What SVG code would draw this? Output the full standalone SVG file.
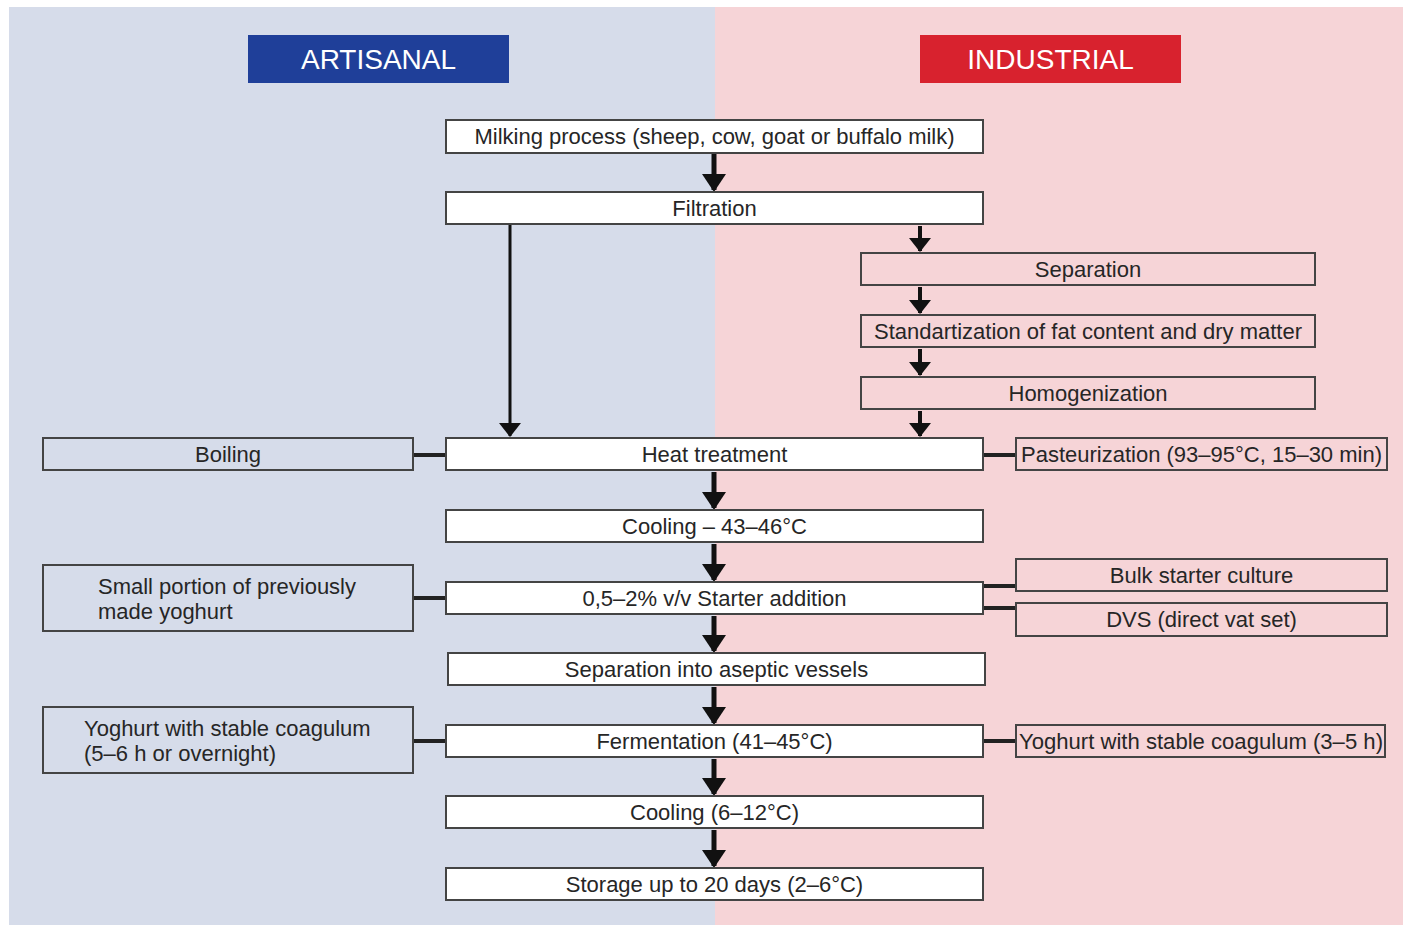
<svg xmlns="http://www.w3.org/2000/svg" width="1403" height="927" viewBox="0 0 1403 927">
<defs>
<marker id="ah" markerUnits="userSpaceOnUse" markerWidth="18" markerHeight="24" refX="16" refY="12" orient="auto" viewBox="0 0 18 24">
<path d="M0,0 L18,12 L0,24 Z" fill="#111"/>
</marker>
<marker id="ahs" markerUnits="userSpaceOnUse" markerWidth="14" markerHeight="22" refX="13" refY="11" orient="auto" viewBox="0 0 14 22">
<path d="M0,0 L14,11 L0,22 Z" fill="#111"/>
</marker>
</defs>
<style>
text{font-family:"Liberation Sans",Arial,sans-serif;font-size:22px;fill:#262626}
.main{fill:#fff;stroke:#444;stroke-width:2}
.sideB{fill:#d6dcea;stroke:#444;stroke-width:2}
.sideR{fill:#f6d4d7;stroke:#444;stroke-width:2}
.arr{stroke:#111;stroke-width:5;fill:none;marker-end:url(#ah)}
.arrs{stroke:#111;stroke-width:4;fill:none;marker-end:url(#ahs)}
.arrl{stroke:#111;stroke-width:3;fill:none;marker-end:url(#ahs)}
.con{stroke:#222;stroke-width:4;fill:none}
.hdr{fill:#fff;font-size:28px}
</style>
<rect x="0" y="0" width="1403" height="927" fill="#fff"/>
<rect x="9" y="7" width="706" height="918" fill="#d6dcea"/>
<rect x="715" y="7" width="688" height="918" fill="#f6d4d7"/>

<g id="hdr-artisanal"><rect x="248" y="35" width="261" height="48" fill="#1f3f99"/><text class="hdr" x="378.5" y="69" text-anchor="middle">ARTISANAL</text></g>
<g id="hdr-industrial"><rect x="920" y="35" width="261" height="48" fill="#d8222e"/><text class="hdr" x="1050.5" y="69" text-anchor="middle">INDUSTRIAL</text></g>

<g id="connectors">
<path class="arr" d="M714,153 V190"/>
<path class="arrl" d="M510,224 V436"/>
<path class="arrs" d="M920,226 V251"/>
<path class="arrs" d="M920,287 V313"/>
<path class="arrs" d="M920,349 V375"/>
<path class="arrs" d="M920,411 V436"/>
<path class="arr" d="M714,472 V508"/>
<path class="arr" d="M714,544 V580"/>
<path class="arr" d="M714,616 V651"/>
<path class="arr" d="M714,687 V723"/>
<path class="arr" d="M714,759 V794"/>
<path class="arr" d="M714,830 V866"/>
<path class="con" d="M413,455 H446"/>
<path class="con" d="M983,455 H1016"/>
<path class="con" d="M413,598 H446"/>
<path class="con" d="M983,586 H1016"/>
<path class="con" d="M983,608 H1016"/>
<path class="con" d="M413,741 H446"/>
<path class="con" d="M983,741 H1016"/>
</g>

<g id="milking"><rect class="main" x="446" y="120" width="537" height="33"/><text x="714.5" y="144" text-anchor="middle">Milking process (sheep, cow, goat or buffalo milk)</text></g>
<g id="filtration"><rect class="main" x="446" y="192" width="537" height="32"/><text x="714.5" y="216" text-anchor="middle">Filtration</text></g>
<g id="separation"><rect class="sideR" x="861" y="253" width="454" height="32"/><text x="1088" y="277" text-anchor="middle">Separation</text></g>
<g id="standardization"><rect class="sideR" x="861" y="315" width="454" height="32"/><text x="1088" y="339" text-anchor="middle">Standartization of fat content and dry matter</text></g>
<g id="homogenization"><rect class="sideR" x="861" y="377" width="454" height="32"/><text x="1088" y="401" text-anchor="middle">Homogenization</text></g>
<g id="heat"><rect class="main" x="446" y="438" width="537" height="32"/><text x="714.5" y="462" text-anchor="middle">Heat treatment</text></g>
<g id="boiling"><rect class="sideB" x="43" y="438" width="370" height="32"/><text x="228" y="462" text-anchor="middle">Boiling</text></g>
<g id="pasteurization"><rect class="sideR" x="1016" y="438" width="371" height="32"/><text x="1201.5" y="462" text-anchor="middle">Pasteurization (93–95°C, 15–30 min)</text></g>
<g id="cooling1"><rect class="main" x="446" y="510" width="537" height="32"/><text x="714.5" y="534" text-anchor="middle">Cooling – 43–46°C</text></g>
<g id="starter"><rect class="main" x="446" y="582" width="537" height="32"/><text x="714.5" y="606" text-anchor="middle">0,5–2% v/v Starter addition</text></g>
<g id="smallportion"><rect class="sideB" x="43" y="565" width="370" height="66"/><text x="98" y="594">Small portion of previously</text><text x="98" y="619">made yoghurt</text></g>
<g id="bulk"><rect class="sideR" x="1016" y="559" width="371" height="32"/><text x="1201.5" y="583" text-anchor="middle">Bulk starter culture</text></g>
<g id="dvs"><rect class="sideR" x="1016" y="603" width="371" height="33"/><text x="1201.5" y="627" text-anchor="middle">DVS (direct vat set)</text></g>
<g id="aseptic"><rect class="main" x="448" y="653" width="537" height="32"/><text x="716.5" y="677" text-anchor="middle">Separation into aseptic vessels</text></g>
<g id="fermentation"><rect class="main" x="446" y="725" width="537" height="32"/><text x="714.5" y="749" text-anchor="middle">Fermentation (41–45°C)</text></g>
<g id="yoghurtL"><rect class="sideB" x="43" y="707" width="370" height="66"/><text x="84" y="736">Yoghurt with stable coagulum</text><text x="84" y="761">(5–6 h or overnight)</text></g>
<g id="yoghurtR"><rect class="sideR" x="1016" y="725" width="369" height="32"/><text x="1019" y="749" textLength="364" lengthAdjust="spacingAndGlyphs">Yoghurt with stable coagulum (3–5 h)</text></g>
<g id="cooling2"><rect class="main" x="446" y="796" width="537" height="32"/><text x="714.5" y="820" text-anchor="middle">Cooling (6–12°C)</text></g>
<g id="storage"><rect class="main" x="446" y="868" width="537" height="32"/><text x="714.5" y="892" text-anchor="middle">Storage up to 20 days (2–6°C)</text></g>
</svg>
